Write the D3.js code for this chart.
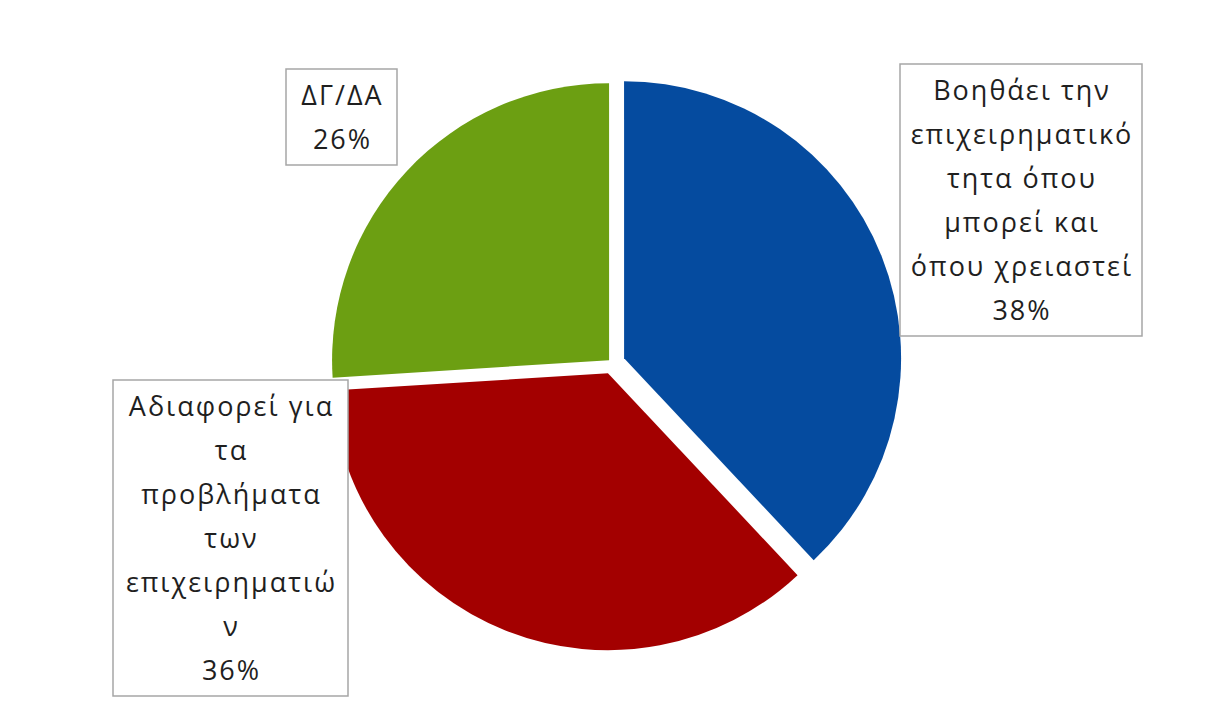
<!DOCTYPE html>
<html>
<head>
<meta charset="utf-8">
<script src="https://cdn.jsdelivr.net/npm/d3@7"></script>
<style>
  html, body { margin: 0; padding: 0; background: #ffffff; }
  svg { display: block; }
  text { font-family: "Open Sans", "Noto Sans", sans-serif; fill: #1f1f1f; }
</style>
</head>
<body>
<svg id="chart" width="1222" height="728"></svg>
<script>
// ---- data ----
const categories = [
  "Βοηθάει την επιχειρηματικότητα όπου μπορεί και όπου χρειαστεί",
  "Αδιαφορεί για τα προβλήματα των επιχειρηματιών",
  "ΔΓ/ΔΑ"
];
const values = [38, 36, 26];
const labelLines = [
  ["Βοηθάει την", "επιχειρηματικό", "τητα όπου", "μπορεί και", "όπου χρειαστεί"],
  ["Αδιαφορεί για", "τα", "προβλήματα", "των", "επιχειρηματιώ", "ν"],
  ["ΔΓ/ΔΑ"]
];
const colors = ["#054B9F", "#A30000", "#6C9F12"];

// ---- layout (styles / positions) ----
const W = 1222, H = 728;
const cx = 612, cy = 363, radius = 277;
const explode = [13, 11, 4];
const labelBoxes = [
  { left: 900, top: 64, width: 242 },
  { left: 113, top: 380, width: 235 },
  { left: 286, top: 69, width: 111 }
];
const lineH = 44, fontSize = 27, spacing = 2;

const svg = d3.select("#chart");
const total = d3.sum(values);
const pie = d3.pie().sort(null).value(d => d)(values);
const arc = d3.arc().innerRadius(0).outerRadius(radius);

const g = svg.append("g").attr("transform", `translate(${cx},${cy})`);
g.selectAll("path.slice")
  .data(pie)
  .join("path")
  .attr("class", "slice")
  .attr("d", arc)
  .attr("fill", (d, i) => colors[i])
  .attr("transform", (d, i) => {
    const mid = (d.startAngle + d.endAngle) / 2;
    return `translate(${Math.sin(mid) * explode[i]},${-Math.cos(mid) * explode[i]})`;
  });

// ---- labels ----
const labels = svg.selectAll("g.label")
  .data(pie)
  .join("g")
  .attr("class", "label");

labels.each(function(d, i) {
  const box = labelBoxes[i];
  const lines = labelLines[i].concat([Math.round(values[i] / total * 100) + "%"]);
  const h = lines.length * lineH + 8;
  const sel = d3.select(this);
  sel.append("rect")
    .attr("x", box.left)
    .attr("y", box.top)
    .attr("width", box.width)
    .attr("height", h)
    .attr("fill", "#ffffff")
    .attr("stroke", "#A6A6A6")
    .attr("stroke-width", 1.5);
  sel.selectAll("text")
    .data(lines)
    .join("text")
    .attr("x", box.left + box.width / 2 + spacing / 2)
    .attr("y", (t, j) => box.top + 4 + lineH / 2 + j * lineH + fontSize * 0.36)
    .attr("text-anchor", "middle")
    .attr("font-size", fontSize)
    .attr("letter-spacing", spacing)
    .text(t => t);
});
</script>
</body>
</html>
